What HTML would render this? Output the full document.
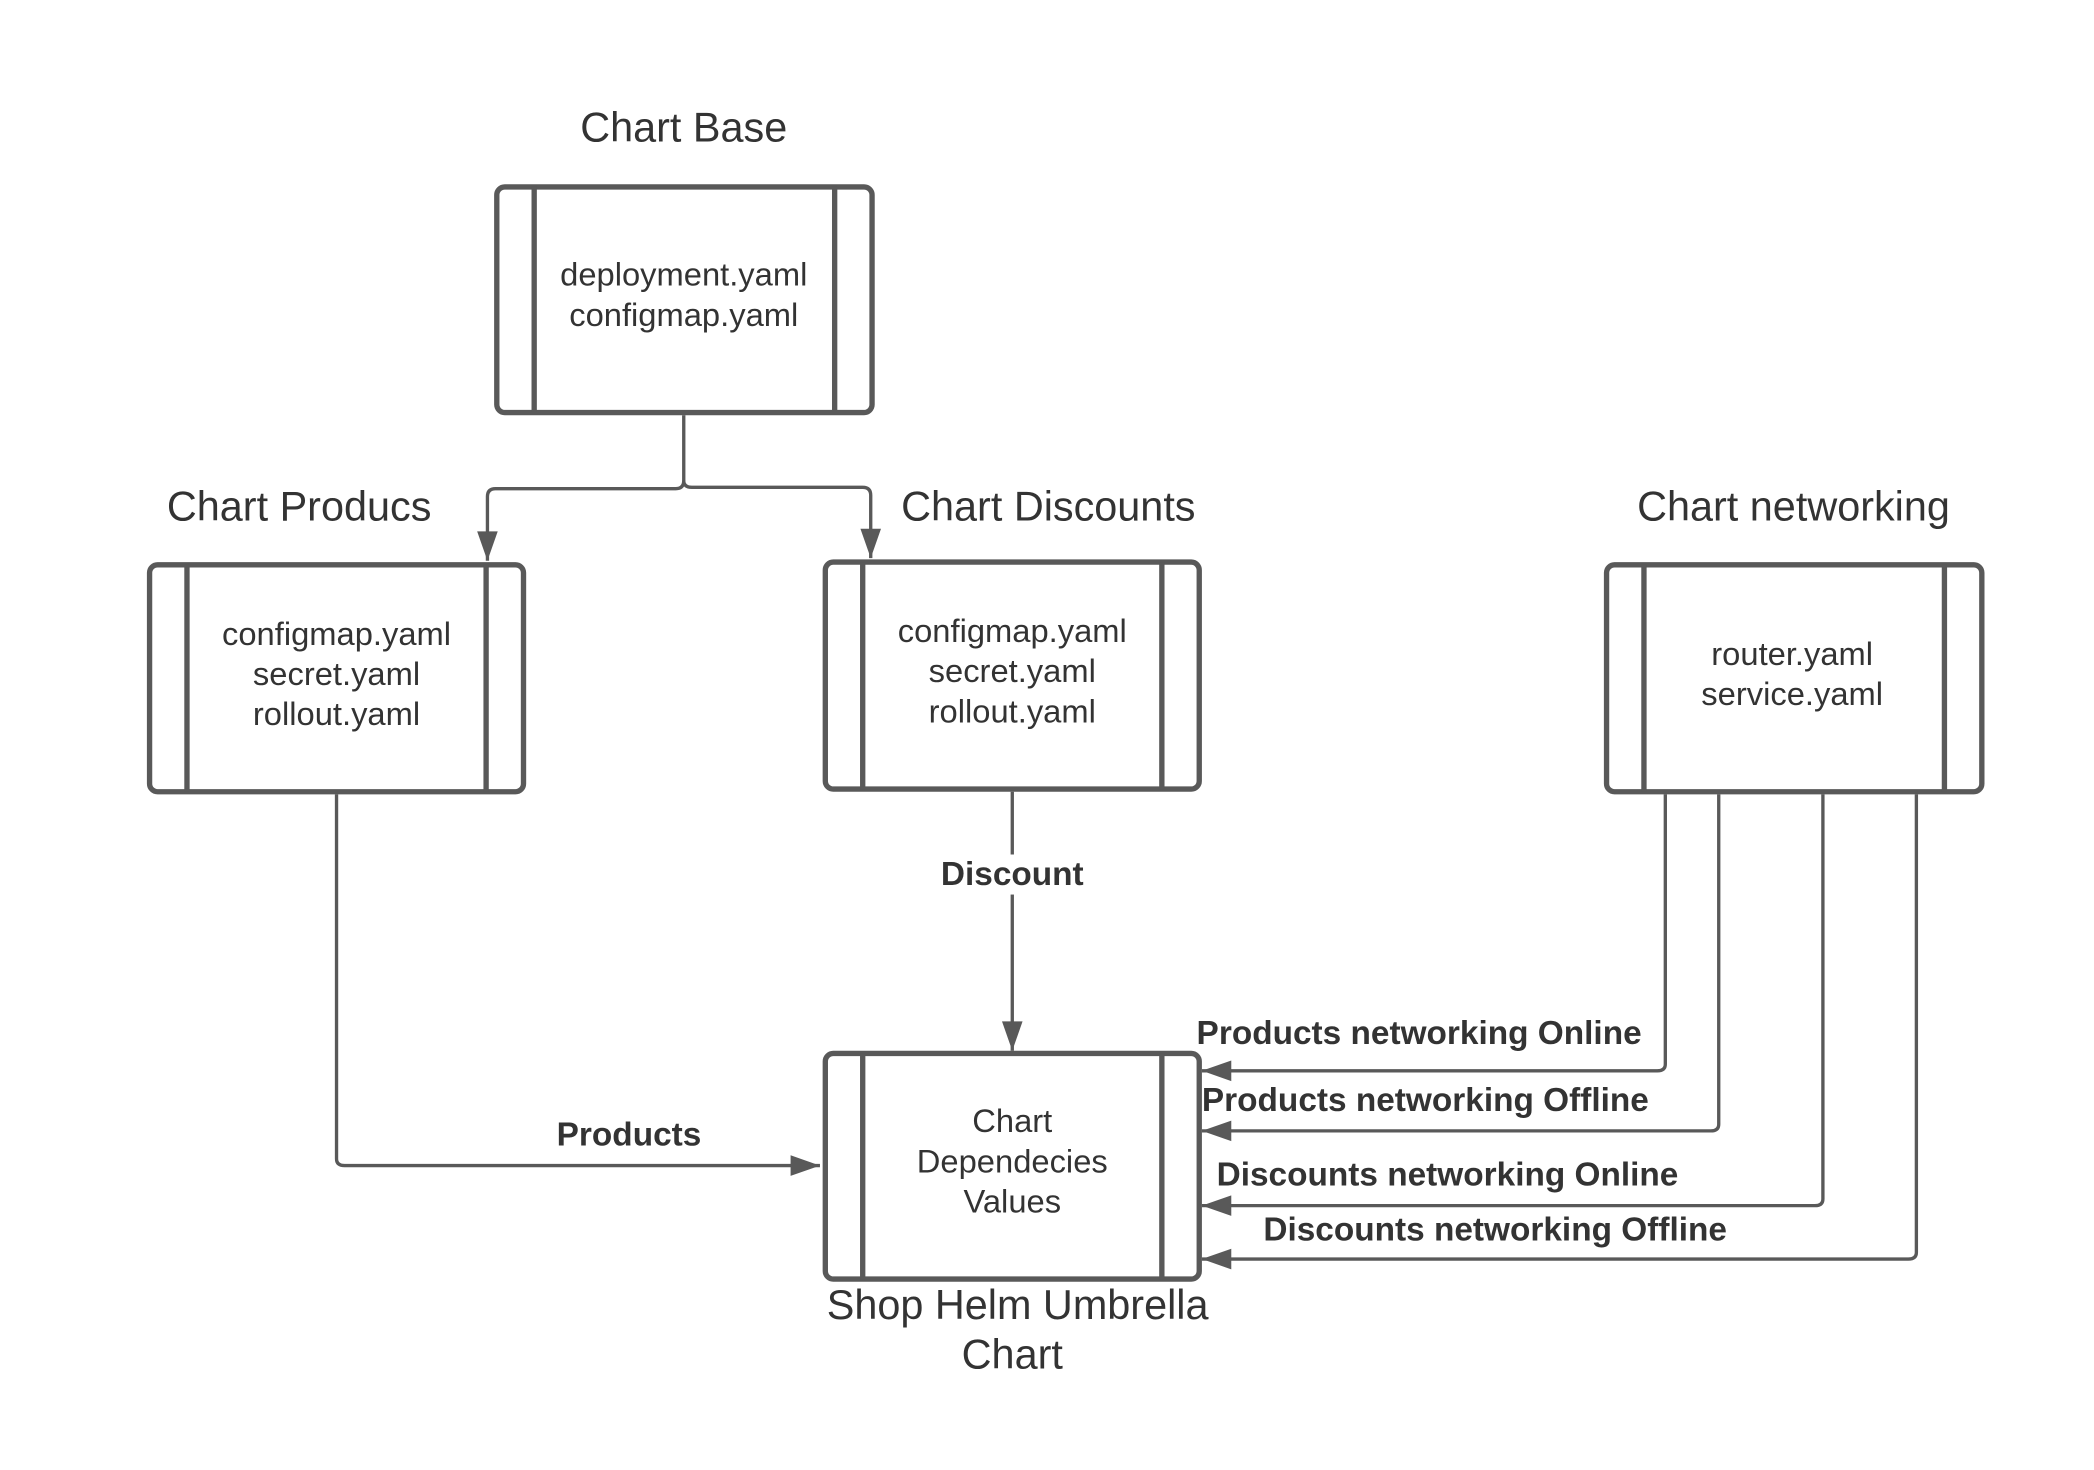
<!DOCTYPE html>
<html><head><meta charset="utf-8"><style>html,body{margin:0;padding:0;background:#fff;}svg{display:block}</style></head>
<body>
<svg width="2094" height="1470" viewBox="0 0 1568 1101" preserveAspectRatio="none" xmlns="http://www.w3.org/2000/svg" font-family="Liberation Sans, sans-serif" fill="#333">
<defs>
<marker id="b" viewBox="0 0 10 10" refX="10" refY="5" markerWidth="24" markerHeight="22" orient="auto" markerUnits="userSpaceOnUse"><path d="M0,1.5 L10,5 L0,8.5z" fill="#595959"/></marker></defs>
<g fill="none" stroke="#595959" stroke-width="4">
<rect x="372" y="140" width="281" height="169" rx="6"/><line x1="400" y1="140" x2="400" y2="309"/><line x1="625" y1="140" x2="625" y2="309"/>
<rect x="112" y="423" width="280" height="170" rx="6"/><line x1="140" y1="423" x2="140" y2="593"/><line x1="364" y1="423" x2="364" y2="593"/>
<rect x="618" y="421" width="280" height="170" rx="6"/><line x1="646" y1="421" x2="646" y2="591"/><line x1="870" y1="421" x2="870" y2="591"/>
<rect x="1203" y="423" width="281" height="170" rx="6"/><line x1="1231" y1="423" x2="1231" y2="593"/><line x1="1456" y1="423" x2="1456" y2="593"/>
<rect x="618" y="789" width="280" height="169" rx="6"/><line x1="646" y1="789" x2="646" y2="958"/><line x1="870" y1="789" x2="870" y2="958"/>
</g>
<g fill="none" stroke="#595959" stroke-width="2.5">
<path d="M512,311 V360 Q512,366 506,366 H371 Q365,366 365,372 V420" marker-end="url(#b)"/>
<path d="M512,360 Q512,365 518,365 H646 Q652,365 652,371 V418" marker-end="url(#b)"/>
<path d="M252,595 V868 Q252,873 258,873 H614" marker-end="url(#b)"/>
<path d="M758,593 V787" marker-end="url(#b)"/>
<path d="M1247,595 V797 Q1247,802 1241,802 H900" marker-end="url(#b)"/>
<path d="M1287,595 V842 Q1287,847 1281,847 H900" marker-end="url(#b)"/>
<path d="M1365,595 V898 Q1365,903 1359,903 H900" marker-end="url(#b)"/>
<path d="M1435,595 V938 Q1435,943 1429,943 H900" marker-end="url(#b)"/>
</g>
<rect x="700" y="640" width="116" height="30" fill="#fff"/>
<g font-size="31" text-anchor="middle">
<text x="512" y="106">Chart Base</text>
<text x="224" y="390">Chart Producs</text>
<text x="785" y="390">Chart Discounts</text>
<text x="1343" y="390">Chart networking</text>
<text x="762" y="988">Shop Helm Umbrella</text>
<text x="758" y="1025">Chart</text>
</g>
<g font-size="24.5" text-anchor="middle">
<text x="512" y="214">deployment.yaml</text><text x="512" y="244">configmap.yaml</text>
<text x="252" y="483">configmap.yaml</text><text x="252" y="513">secret.yaml</text><text x="252" y="543">rollout.yaml</text>
<text x="758" y="481">configmap.yaml</text><text x="758" y="511">secret.yaml</text><text x="758" y="541">rollout.yaml</text>
<text x="1342" y="498">router.yaml</text><text x="1342" y="528">service.yaml</text>
<text x="758" y="848">Chart</text><text x="758" y="878">Dependecies</text><text x="758" y="908">Values</text>
</g>
<g font-size="25" font-weight="bold" style="paint-order:stroke" stroke="#fff" stroke-width="0">
<text x="758" y="663" text-anchor="middle">Discount</text>
<text x="471" y="858" text-anchor="middle">Products</text>
<text x="896" y="782">Products networking Online</text>
<text x="900" y="832">Products networking Offline</text>
<text x="911" y="888">Discounts networking Online</text>
<text x="946" y="929">Discounts networking Offline</text>
</g>
</svg>
</body></html>
